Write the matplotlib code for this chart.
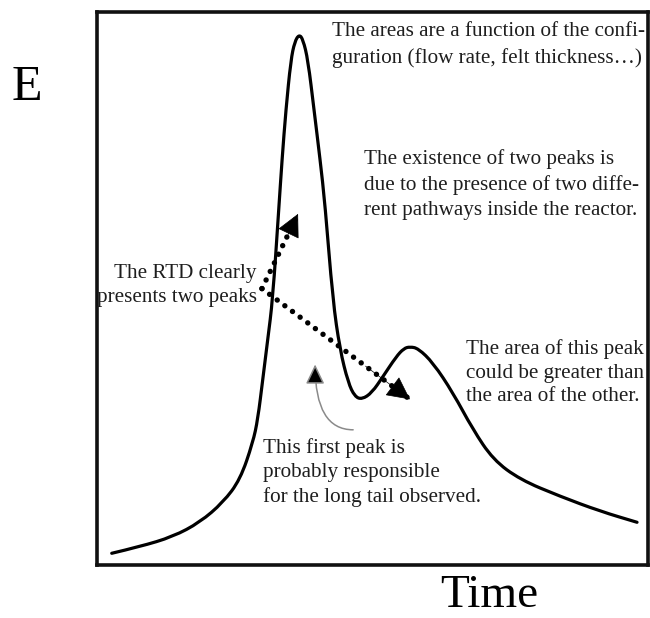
import numpy as np
import matplotlib
matplotlib.use('Agg')
import matplotlib.pyplot as plt
from matplotlib.path import Path
from matplotlib.patches import PathPatch

# RTD curve (arbitrary units, 0-100 on both axes)
time = [2.7, 7.8, 13.8, 18.7, 22.9, 26.0, 28.3, 29.2, 30.1, 31.0, 31.9, 33.0,
        33.6, 34.3, 35.2, 35.9, 36.7, 37.4, 38.3, 39.4, 40.5, 41.4, 42.8, 44.1,
        45.6, 46.8, 48.1, 49.9, 51.9, 54.3, 55.7, 56.8, 58.3, 61.0, 64.6, 68.2,
        71.9, 76.8, 84.0, 91.3, 98.0]
E = [2.2, 3.4, 5.2, 7.8, 11.4, 15.5, 22.2, 26.4, 33.6, 40.8, 48.0, 64.3,
     73.3, 82.3, 91.3, 94.6, 95.9, 95.0, 91.3, 82.3, 73.3, 65.2, 48.0, 39.0,
     33.0, 30.5, 30.0, 31.2, 34.1, 37.7, 39.2, 39.5, 39.2, 36.6, 31.2, 24.6,
     19.1, 15.5, 12.5, 9.8, 7.8]

# annotation arrows (start, tip)
dot_start = (29.95, 50.0)
tip_first = (36.5, 63.5)
tip_second = (56.8, 30.0)
gray_start = (46.5, 24.5)
gray_tip = (39.6, 36.3)

txt_areas = 'The areas are a function of the confi-\nguration (flow rate, felt thickness\u2026)'
txt_exist = 'The existence of two peaks is\ndue to the presence of two diffe-\nrent pathways inside the reactor.'
txt_rtd = 'The RTD clearly\npresents two peaks'
txt_area2 = 'The area of this peak\ncould be greater than\nthe area of the other.'
txt_first = 'This first peak is\nprobably responsible\nfor the long tail observed.'

plt.rcParams['font.family'] = ['Liberation Serif', 'DejaVu Serif']

fig = plt.figure(figsize=(6.5, 6.18), dpi=100)
ax = fig.add_axes([0.149, 0.085, 0.848, 0.896])
ax.set_xlim(0, 100)
ax.set_ylim(0, 100)
ax.set_xticks([])
ax.set_yticks([])
for s in ax.spines.values():
    s.set_linewidth(2.6)
    s.set_color('#111111')

# smooth curve through the read points (quadratic segments between midpoints)
pts = np.column_stack([time, E])
verts = [pts[0]]
codes = [Path.MOVETO]
for i in range(1, len(pts) - 1):
    verts += [pts[i], (pts[i] + pts[i + 1]) / 2]
    codes += [Path.CURVE3, Path.CURVE3]
verts.append(pts[-1])
codes.append(Path.LINETO)
ax.add_patch(PathPatch(Path(verts, codes), fc='none', ec='black', lw=2.3,
                       joinstyle='round', capstyle='round'))

# dotted arrows
for tip in [tip_first, tip_second]:
    ax.plot([dot_start[0], tip[0]], [dot_start[1], tip[1]], color='black', lw=3.9,
            linestyle=(0, (0.01, 1.75)), dash_capstyle='round')
    d = np.array(tip) - np.array(dot_start)
    back = np.array(tip) - d * 0.3
    ax.annotate('', xy=tip, xytext=tuple(back),
                arrowprops=dict(arrowstyle='-|>,head_length=0.75,head_width=0.38',
                                mutation_scale=20, color='black', lw=0.5,
                                shrinkA=0, shrinkB=0))

# thin gray arrow
ax.annotate('', xy=gray_tip, xytext=gray_start,
            arrowprops=dict(arrowstyle='-|>,head_length=0.75,head_width=0.36',
                            mutation_scale=16, ec='#8a8a8a', fc='black', lw=1.1,
                            connectionstyle='angle3,angleA=180,angleB=90',
                            shrinkA=0, shrinkB=0))

tc = '#1e1e1e'
fs = 15.2
ax.text(42.6, 94.0, txt_areas, fontsize=fs, color=tc, va='center', ha='left', linespacing=1.49)
ax.text(48.5, 68.8, txt_exist, fontsize=fs, color=tc, va='center', ha='left', linespacing=1.44)
ax.text(29.0, 50.6, txt_rtd, fontsize=fs, color=tc, va='center', ha='right', linespacing=1.33)
ax.text(67.0, 34.8, txt_area2, fontsize=fs, color=tc, va='center', ha='left', linespacing=1.33)
ax.text(30.1, 16.8, txt_first, fontsize=fs, color=tc, va='center', ha='left', linespacing=1.33)

fig.text(27 / 650, 1 - 88 / 618, 'E', fontsize=36, ha='center', va='center')
fig.text(489 / 650, 1 / 618, 'Time', fontsize=34, ha='center', va='bottom')

fig.savefig('out.png', dpi=100)
